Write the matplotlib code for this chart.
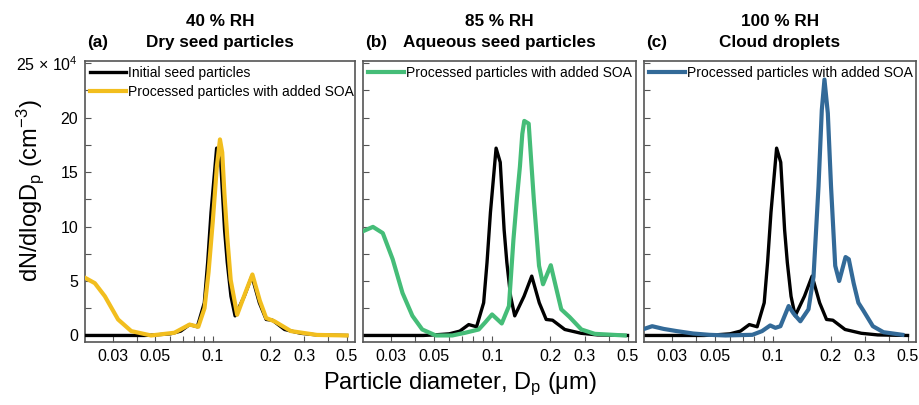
import matplotlib
matplotlib.use("Agg")
import matplotlib.pyplot as plt
from matplotlib.ticker import FixedLocator, NullFormatter, FixedFormatter

plt.rcParams['font.family'] = ['Liberation Sans', 'DejaVu Sans']
plt.rcParams['mathtext.default'] = 'regular'

# ---------------- data (dN/dlogDp in units of 1e4 cm^-3) ----------------
seed_d = [0.0215, 0.030, 0.040, 0.044, 0.050, 0.060, 0.068, 0.0756, 0.083,
          0.0903, 0.094, 0.0979, 0.102, 0.1047, 0.110, 0.1152, 0.119, 0.1244,
          0.1307, 0.146, 0.160, 0.175, 0.190, 0.205, 0.237, 0.288, 0.350, 0.500]
seed_n = [0.0, 0.0, 0.0, 0.0, 0.05, 0.15, 0.4, 1.0, 0.8,
          3.0, 6.7, 11.3, 14.9, 17.2, 15.9, 9.7, 6.7, 3.6,
          1.8, 3.6, 5.45, 3.0, 1.47, 1.4, 0.55, 0.2, 0.05, 0.0]

dry_d = [0.0215, 0.0242, 0.0273, 0.032, 0.0375, 0.0476, 0.063, 0.0756, 0.084,
         0.0905, 0.095, 0.100, 0.105, 0.109, 0.112, 0.115, 0.119, 0.124,
         0.134, 0.147, 0.161, 0.176, 0.190, 0.210, 0.256, 0.350, 0.500]
dry_n = [5.3, 4.8, 3.6, 1.47, 0.4, 0.0, 0.25, 1.0, 0.8,
         2.5, 5.8, 10.5, 15.5, 18.0, 16.8, 13.0, 9.0, 5.1,
         1.9, 3.8, 5.6, 3.2, 1.6, 1.3, 0.4, 0.05, 0.0]

aq_d = [0.0215, 0.0242, 0.0272, 0.0306, 0.0344, 0.0387, 0.0435, 0.0511, 0.0622,
        0.0726, 0.0852, 0.092, 0.0998, 0.112, 0.122, 0.1287, 0.134, 0.139,
        0.143, 0.1464, 0.1543, 0.159, 0.164, 0.1745, 0.183, 0.2007, 0.213,
        0.2273, 0.2507, 0.2888, 0.3385, 0.4838]
aq_n = [9.57, 9.97, 9.4, 7.0, 3.9, 1.8, 0.55, 0.0, 0.0,
        0.25, 0.55, 1.2, 1.93, 1.1, 2.7, 8.8, 12.5, 15.5,
        18.5, 19.7, 19.45, 16.0, 12.5, 6.4, 4.7, 6.45, 4.5,
        2.4, 1.7, 0.55, 0.15, 0.0]

cloud_d = [0.0215, 0.0237, 0.0272, 0.0318, 0.0386, 0.0469, 0.057, 0.0784, 0.088,
           0.097, 0.1032, 0.1096, 0.1209, 0.1284, 0.139, 0.1532, 0.1627, 0.1727,
           0.1796, 0.1854, 0.193, 0.2005, 0.2108, 0.221, 0.2385, 0.2479, 0.2627,
           0.278, 0.2946, 0.3305, 0.375, 0.470]
cloud_n = [0.6, 0.85, 0.6, 0.4, 0.18, 0.06, 0.0, 0.06, 0.4,
           0.92, 0.7, 0.85, 2.7, 2.0, 1.3, 2.4, 5.4, 13.7,
           20.7, 23.5, 20.4, 13.7, 6.4, 5.0, 7.2, 7.0, 4.8,
           3.0, 2.3, 0.85, 0.3, 0.06]

rh_titles = ["40 % RH", "85 % RH", "100 % RH"]
sub_titles = ["Dry seed particles", "Aqueous seed particles", "Cloud droplets"]
panel_tags = ["(a)", "(b)", "(c)"]
seed_label = "Initial seed particles"
proc_label = "Processed particles with added SOA"

x_major = [0.03, 0.05, 0.1, 0.2, 0.3, 0.5]
x_major_lbl = ["0.03", "0.05", "0.1", "0.2", "0.3", "0.5"]
x_minor = [0.04, 0.06, 0.07, 0.08, 0.09, 0.4]
y_major = [0, 5, 10, 15, 20, 25]
y_major_lbl = ["0", "5", "10", "15", "20", "25 × 10$^{4}$"]
y_minor = [2.5, 7.5, 12.5, 17.5, 22.5]

# ---------------- figure ----------------
fig = plt.figure(figsize=(9.19, 4.05), dpi=100)
W, H = 919.0, 405.0
lefts = [85, 363, 644]
widths = [270, 273, 272]
top_px, bot_px = 61, 342

colors = ["#F2BE1E", "#45BD78", "#336A98"]
proc_d = [dry_d, aq_d, cloud_d]
proc_n = [dry_n, aq_n, cloud_n]
spine_col = "#555555"

for i in range(3):
    ax = fig.add_axes([lefts[i] / W, 1 - bot_px / H, widths[i] / W, (bot_px - top_px) / H])
    ax.set_xscale('log')
    ax.set_xlim(0.0215, 0.553)
    ax.set_ylim(-0.6, 25.2)
    hs, = ax.plot(seed_d, seed_n, color='black', lw=2.4, zorder=3 if i == 0 else 2,
                  label=seed_label)
    hp, = ax.plot(proc_d[i], proc_n[i], color=colors[i], lw=3.0,
                  zorder=4 if i == 0 else 3, label=proc_label)
    if i == 0:
        ax.legend(handles=[hs, hp], loc='upper left', frameon=False,
                  fontsize=10, handlelength=2.6, handletextpad=0.15,
                  borderaxespad=0.1, borderpad=0.25, labelspacing=0.35)
    else:
        ax.legend(handles=[hp], loc='upper left', frameon=False,
                  fontsize=10, handlelength=2.6, handletextpad=0.15,
                  borderaxespad=0.1, borderpad=0.25)
    ax.xaxis.set_major_locator(FixedLocator(x_major))
    ax.xaxis.set_major_formatter(FixedFormatter(x_major_lbl))
    ax.xaxis.set_minor_locator(FixedLocator(x_minor))
    ax.xaxis.set_minor_formatter(NullFormatter())
    ax.yaxis.set_major_locator(FixedLocator(y_major))
    ax.yaxis.set_minor_locator(FixedLocator(y_minor))
    if i == 0:
        ax.yaxis.set_major_formatter(FixedFormatter(y_major_lbl))
    else:
        ax.yaxis.set_major_formatter(NullFormatter())
    ax.tick_params(which='both', direction='in', length=4, width=0.8, color=spine_col,
                   labelsize=11.5, pad=5)
    for sp in ax.spines.values():
        sp.set_color(spine_col)
        sp.set_linewidth(1.2)
    cx = (lefts[i] + widths[i] / 2) / W
    fig.text(cx, 1 - 22 / H, rh_titles[i], ha='center', va='center',
             fontsize=12.3, fontweight='bold')
    fig.text(cx, 1 - 43 / H, sub_titles[i], ha='center', va='center',
             fontsize=12.3, fontweight='bold')
    fig.text((lefts[i] + 2) / W, 1 - 43 / H, panel_tags[i], ha='left', va='center',
             fontsize=12.3, fontweight='bold')

fig.text(0.5, 1 - 384 / H, "Particle diameter, D$_{p}$ (μm)", ha='center', va='center',
         fontsize=17)
fig.text(30 / W, 0.5 + 0.03, "dN/dlogD$_{p}$ (cm$^{-3}$)", ha='center', va='center',
         rotation=90, fontsize=17)

fig.savefig("out.png", dpi=100)
